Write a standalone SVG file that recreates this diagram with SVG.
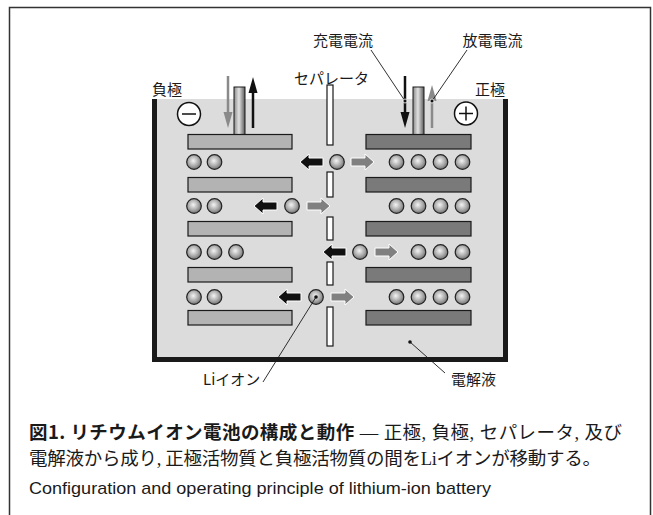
<svg xmlns="http://www.w3.org/2000/svg" width="653" height="515" viewBox="0 0 653 515">
<style>
.lbl{font-family:"Noto Sans CJK JP","Liberation Sans",sans-serif;font-size:15px;fill:#1a1a1a}
.plateL{fill:#b3b3b3;stroke:#1a1a1a;stroke-width:1.2}
.plateR{fill:#7a7a7a;stroke:#1a1a1a;stroke-width:1.2}
.sep{fill:#fff;stroke:#1a1a1a;stroke-width:1.2}
.ion{fill:url(#ballG);stroke:#222;stroke-width:1.2}
.tab{fill:url(#tabG);stroke:#1a1a1a;stroke-width:1}
.lead{stroke:#1a1a1a;stroke-width:0.9;fill:none}
.dot{fill:#111;stroke:#fff;stroke-width:0.8}
.cap{font-family:"Liberation Serif","Noto Sans CJK JP",serif;font-size:18.5px;fill:#1a1a1a}
.capb{font-family:"Noto Sans CJK JP","Liberation Sans",sans-serif;font-weight:bold}
</style>
<defs>
<radialGradient id="ballG" cx="0.45" cy="0.42" r="0.6">
<stop offset="0" stop-color="#f4f4f4"/>
<stop offset="0.6" stop-color="#a8a8a8"/>
<stop offset="1" stop-color="#6e6e6e"/>
</radialGradient>
<linearGradient id="tabG" x1="0" y1="0" x2="1" y2="0">
<stop offset="0" stop-color="#8a8a8a"/>
<stop offset="0.45" stop-color="#e2e2e2"/>
<stop offset="1" stop-color="#5a5a5a"/>
</linearGradient>
<marker id="hB" markerUnits="userSpaceOnUse" markerWidth="20" markerHeight="12" viewBox="0 -6 20 12" refX="0" refY="0" orient="auto"><path d="M0,-4.5 L16,0 L0,4.5 Z" fill="#111"/></marker>
<marker id="hG" markerUnits="userSpaceOnUse" markerWidth="20" markerHeight="12" viewBox="0 -6 20 12" refX="0" refY="0" orient="auto"><path d="M0,-4.5 L16,0 L0,4.5 Z" fill="#8a8a8a"/></marker>
<path id="arrL" d="M0,0 L9,-8 L9,-4 L23,-4 L23,4 L9,4 L9,8 Z" fill="#111" stroke="#fff" stroke-width="1"/>
<path id="arrR" d="M0,0 L-9,-8 L-9,-4 L-23,-4 L-23,4 L-9,4 L-9,8 Z" fill="#808080" stroke="#fff" stroke-width="1"/>
</defs>

<rect x="9.5" y="7.5" width="641" height="530" fill="#fff" stroke="#333" stroke-width="1.5"/>

<g id="container">
<rect x="155" y="99" width="350" height="260" fill="#dcdcdc"/>
<polyline points="154.5,99 154.5,359.5 505.5,359.5 505.5,99" fill="none" stroke="#1a1a1a" stroke-width="5"/>
</g>

<g id="negative-electrode">
<rect class="tab" x="234" y="87" width="11" height="47.5"/>
<rect class="plateL" x="188" y="134.5" width="104" height="14.5"/>
<rect class="plateL" x="188" y="177.5" width="104" height="14.5"/>
<rect class="plateL" x="188" y="221.5" width="104" height="14.5"/>
<rect class="plateL" x="188" y="267.5" width="104" height="14.5"/>
<rect class="plateL" x="188" y="310.5" width="104" height="14.5"/>
<circle cx="189" cy="114" r="11.5" fill="#fff" stroke="#111" stroke-width="1.5"/>
<line x1="182" y1="114" x2="196" y2="114" stroke="#111" stroke-width="1.5"/>
</g>

<g id="positive-electrode">
<rect class="tab" x="413" y="87" width="11" height="47.5"/>
<rect class="plateR" x="366" y="134.5" width="105" height="14.5"/>
<rect class="plateR" x="366" y="177.5" width="105" height="14.5"/>
<rect class="plateR" x="366" y="221.5" width="105" height="14.5"/>
<rect class="plateR" x="366" y="267.5" width="105" height="14.5"/>
<rect class="plateR" x="366" y="310.5" width="105" height="14.5"/>
<circle cx="466" cy="113.5" r="11.5" fill="#fff" stroke="#111" stroke-width="1.5"/>
<line x1="459" y1="113.5" x2="473" y2="113.5" stroke="#111" stroke-width="1.5"/>
<line x1="466" y1="106.5" x2="466" y2="120.5" stroke="#111" stroke-width="1.5"/>
</g>

<g id="separator">
<rect class="sep" x="327" y="85" width="6" height="60"/>
<rect class="sep" x="327" y="172" width="6" height="25"/>
<rect class="sep" x="327" y="217" width="6" height="23"/>
<rect class="sep" x="327" y="262" width="6" height="23"/>
<rect class="sep" x="327" y="307" width="6" height="39"/>
</g>

<g id="li-ions">
<circle class="ion" cx="194" cy="162" r="7.3"/><circle class="ion" cx="214.5" cy="162" r="7.3"/>
<circle class="ion" cx="396.5" cy="162" r="7.3"/><circle class="ion" cx="418.5" cy="162" r="7.3"/><circle class="ion" cx="440.5" cy="162" r="7.3"/><circle class="ion" cx="462.5" cy="162" r="7.3"/>
<circle class="ion" cx="194" cy="206" r="7.3"/><circle class="ion" cx="214.5" cy="206" r="7.3"/>
<circle class="ion" cx="396.5" cy="206" r="7.3"/><circle class="ion" cx="418.5" cy="206" r="7.3"/><circle class="ion" cx="440.5" cy="206" r="7.3"/><circle class="ion" cx="462.5" cy="206" r="7.3"/>
<circle class="ion" cx="194" cy="252" r="7.3"/><circle class="ion" cx="214.5" cy="252" r="7.3"/><circle class="ion" cx="236" cy="252" r="7.3"/>
<circle class="ion" cx="418.5" cy="252" r="7.3"/><circle class="ion" cx="440.5" cy="252" r="7.3"/><circle class="ion" cx="462.5" cy="252" r="7.3"/>
<circle class="ion" cx="194" cy="297" r="7.3"/><circle class="ion" cx="214.5" cy="297" r="7.3"/>
<circle class="ion" cx="396.5" cy="297" r="7.3"/><circle class="ion" cx="418.5" cy="297" r="7.3"/><circle class="ion" cx="440.5" cy="297" r="7.3"/><circle class="ion" cx="462.5" cy="297" r="7.3"/>
</g>

<g id="moving-ions">
<circle class="ion" cx="337" cy="162" r="7.3"/>
<circle class="ion" cx="292" cy="206" r="7.3"/>
<circle class="ion" cx="360" cy="252" r="7.3"/>
<circle class="ion" cx="316" cy="297" r="7.3"/>
</g>

<g id="connectors">
<use href="#arrL" x="300" y="162"/><use href="#arrR" x="374" y="162"/>
<use href="#arrL" x="254" y="206"/><use href="#arrR" x="330" y="206"/>
<use href="#arrL" x="323" y="252"/><use href="#arrR" x="398" y="252"/>
<use href="#arrL" x="278" y="297"/><use href="#arrR" x="354" y="297"/>
<line x1="228" y1="76" x2="228" y2="112" stroke="#8a8a8a" stroke-width="2.5" marker-end="url(#hG)"/>
<line x1="253" y1="128" x2="253" y2="93" stroke="#111" stroke-width="2.5" marker-end="url(#hB)"/>
<line x1="405" y1="76" x2="405" y2="112" stroke="#111" stroke-width="2.5" marker-end="url(#hB)"/>
<line x1="432" y1="128" x2="432" y2="101" stroke="#8a8a8a" stroke-width="2.5" marker-end="url(#hG)"/>
<line class="lead" x1="371" y1="50" x2="405" y2="101"/>
<line class="lead" x1="467" y1="50" x2="432" y2="101"/>
<line class="lead" x1="316" y1="297" x2="263" y2="382"/>
<line class="lead" x1="410" y1="342" x2="445" y2="373"/>
<circle class="dot" cx="405" cy="101" r="2"/>
<circle class="dot" cx="432" cy="101" r="2"/>
<circle cx="316" cy="297" r="1.8" fill="#111"/>
<circle cx="410" cy="342" r="1.8" fill="#111"/>
</g>

<g id="labels">
<text class="lbl" x="343" y="46" text-anchor="middle">充電電流</text>
<text class="lbl" x="492.5" y="46" text-anchor="middle">放電電流</text>
<text class="lbl" x="331.5" y="84" text-anchor="middle">セパレータ</text>
<text class="lbl" x="152" y="95">負極</text>
<text class="lbl" x="475" y="95">正極</text>
<text class="lbl" x="203" y="385">Liイオン</text>
<text class="lbl" x="451" y="385">電解液</text>
</g>

<g id="caption">
<text class="cap" x="29" y="439" textLength="593" lengthAdjust="spacing"><tspan class="capb">図1. リチウムイオン電池の構成と動作</tspan> — 正極, 負極, セパレータ, 及び</text>
<text class="cap" x="29" y="465" textLength="572" lengthAdjust="spacing">電解液から成り, 正極活物質と負極活物質の間をLiイオンが移動する。</text>
<text x="29" y="494" font-family="Liberation Sans, sans-serif" font-size="17" fill="#1a1a1a" textLength="462" lengthAdjust="spacingAndGlyphs">Configuration and operating principle of lithium-ion battery</text>
</g>
</svg>
